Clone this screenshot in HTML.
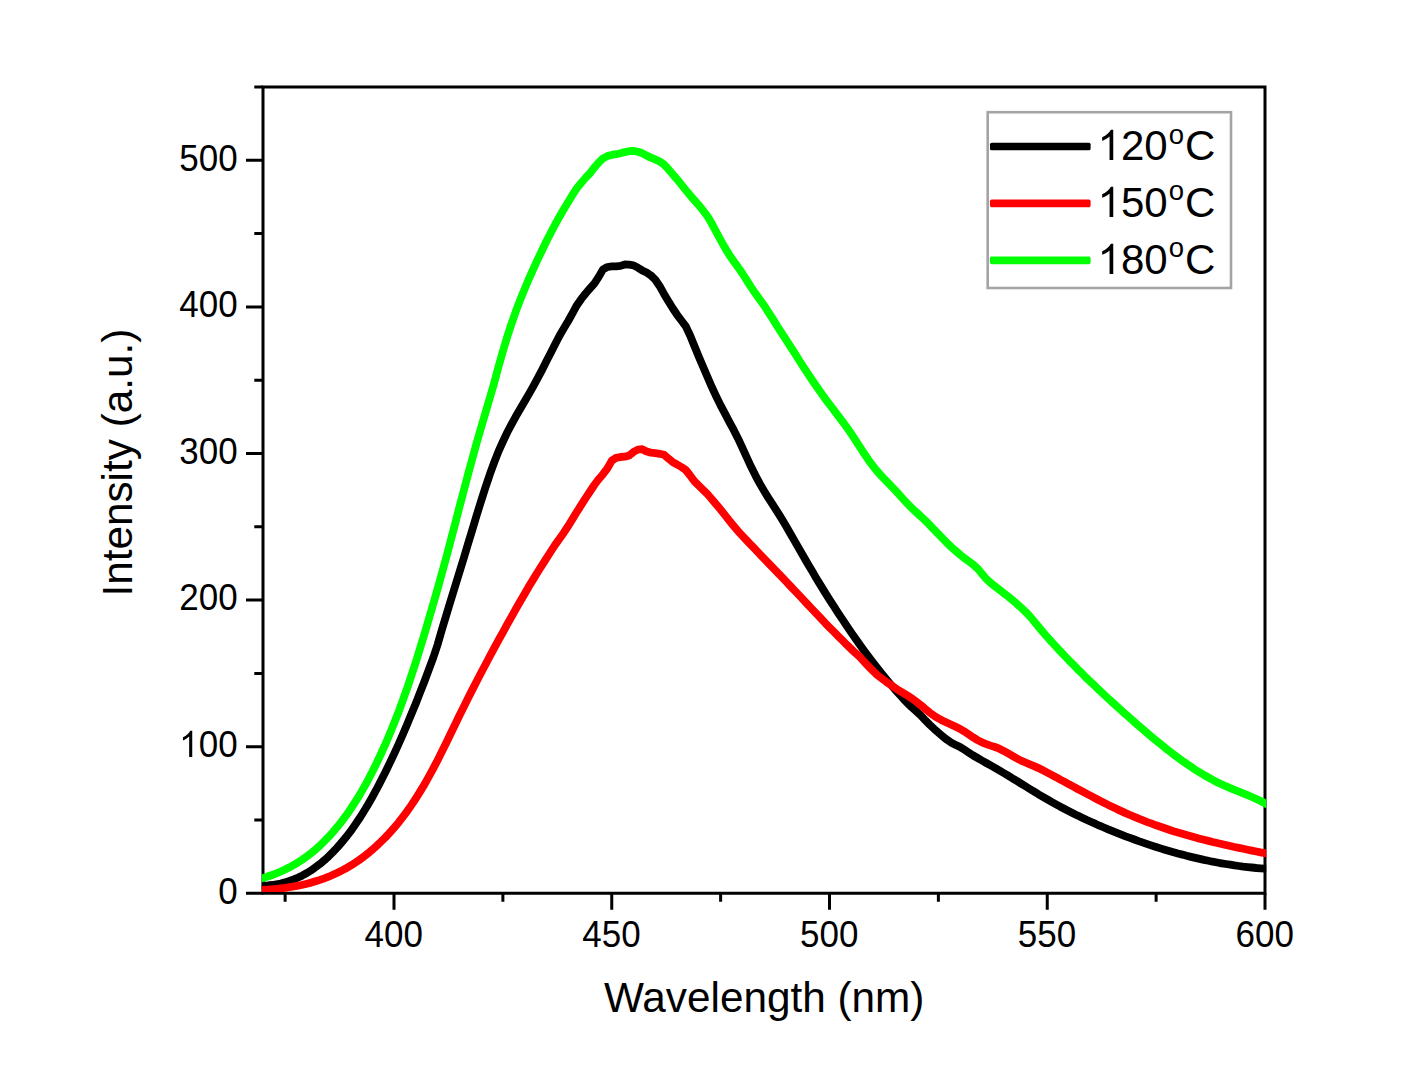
<!DOCTYPE html>
<html><head><meta charset="utf-8"><title>PL spectra</title>
<style>html,body{margin:0;padding:0;background:#fff;overflow:hidden}svg{display:block}text{font-family:"Liberation Sans",sans-serif;fill:#000}.tk{font-size:35px}.tt{font-size:42.3px}.lg{font-size:42px}</style></head><body>
<svg width="1428" height="1080" viewBox="0 0 1428 1080">
<rect width="1428" height="1080" fill="#fff"/>
<defs><clipPath id="c"><rect x="261.8" y="87.0" width="1004.4" height="805.0999999999999"/></clipPath></defs>
<g stroke="#000" stroke-width="3.0" fill="none" stroke-linecap="butt">
<path d="M263.0,85.5 V894.8 M1265.0,85.5 V894.8 M261.5,87.0 H1266.5 M261.5,893.3 H1266.5"/>
<path d="M246.0,893.30 H263.0 M254.3,820.00 H263.0 M246.0,746.70 H263.0 M254.3,673.40 H263.0 M246.0,600.10 H263.0 M254.3,526.80 H263.0 M246.0,453.50 H263.0 M254.3,380.20 H263.0 M246.0,306.90 H263.0 M254.3,233.60 H263.0 M246.0,160.30 H263.0 M254.3,87.00 H263.0 M285.12,893.3 V901.8 M394.00,893.3 V909.8 M502.88,893.3 V901.8 M611.75,893.3 V909.8 M720.62,893.3 V901.8 M829.50,893.3 V909.8 M938.38,893.3 V901.8 M1047.25,893.3 V909.8 M1156.12,893.3 V901.8 M1265.00,893.3 V909.8 "/>
</g>
<g clip-path="url(#c)" fill="none" stroke-linejoin="round" stroke-linecap="round" stroke-width="7.8">
<path stroke="#000" d="M257.4,885.8 L263.4,885.6 L267.7,885.4 L272.1,885.0 L276.4,884.3 L280.8,883.5 L285.1,882.4 L289.5,881.0 L293.8,879.4 L298.2,877.5 L302.5,875.4 L306.9,873.0 L311.3,870.3 L315.6,867.2 L320.0,863.9 L324.3,860.3 L328.7,856.3 L333.0,852.0 L337.4,847.4 L341.7,842.4 L346.1,837.1 L350.5,831.4 L354.8,825.3 L359.2,818.8 L363.5,812.0 L367.9,804.7 L372.2,797.2 L376.6,789.2 L380.9,780.9 L385.3,772.3 L389.6,763.4 L394.0,754.1 L398.4,744.5 L402.7,734.7 L407.1,724.5 L411.4,714.1 L415.8,703.4 L420.1,692.4 L424.5,681.2 L428.8,669.7 L433.2,657.9 L437.6,644.6 L441.9,629.7 L446.3,615.1 L450.6,600.8 L455.0,586.7 L459.3,572.6 L463.7,558.3 L468.0,543.9 L472.4,529.5 L476.7,515.1 L481.1,501.0 L485.5,487.3 L489.8,474.4 L494.2,462.4 L498.5,451.4 L502.9,441.6 L507.2,432.5 L511.6,424.2 L515.9,416.3 L520.3,408.8 L524.7,401.3 L529.0,393.9 L533.4,386.1 L537.7,378.1 L542.1,369.8 L546.4,361.3 L550.8,352.8 L555.1,344.2 L559.5,335.8 L563.8,328.4 L568.2,321.0 L572.6,313.2 L576.9,305.2 L581.3,298.9 L585.6,293.5 L590.0,288.4 L594.3,283.6 L598.7,276.9 L603.0,269.4 L607.4,267.0 L611.8,266.4 L616.1,266.4 L620.5,265.9 L624.8,264.5 L629.2,264.7 L633.5,265.3 L637.9,267.7 L642.2,270.4 L646.6,272.5 L650.9,275.4 L655.3,279.7 L659.7,286.2 L664.0,293.9 L668.4,301.3 L672.7,308.3 L677.1,314.8 L681.4,320.5 L685.8,326.4 L690.1,335.5 L694.5,346.3 L698.9,357.0 L703.2,367.0 L707.6,377.2 L711.9,387.2 L716.3,396.6 L720.6,405.4 L725.0,413.7 L729.3,421.8 L733.7,429.9 L738.0,438.4 L742.4,447.8 L746.8,457.5 L751.1,466.8 L755.5,475.6 L759.8,483.6 L764.2,491.1 L768.5,498.1 L772.9,504.9 L777.2,511.7 L781.6,518.7 L786.0,526.0 L790.3,533.5 L794.7,541.1 L799.0,548.7 L803.4,556.3 L807.7,563.8 L812.1,571.1 L816.4,578.4 L820.8,585.6 L825.1,592.6 L829.5,599.6 L833.9,606.4 L838.2,613.1 L842.6,619.7 L846.9,626.2 L851.3,632.6 L855.6,638.8 L860.0,645.0 L864.3,651.0 L868.7,656.9 L873.1,662.6 L877.4,668.2 L881.8,673.7 L886.1,679.0 L890.5,684.2 L894.8,689.3 L899.2,694.2 L903.5,699.0 L907.9,703.6 L912.2,707.7 L916.6,711.6 L921.0,715.7 L925.3,720.3 L929.7,724.7 L934.0,728.8 L938.4,732.7 L942.7,736.4 L947.1,739.8 L951.4,742.7 L955.8,744.9 L960.2,747.1 L964.5,749.8 L968.9,752.7 L973.2,755.5 L977.6,758.0 L981.9,760.5 L986.3,763.0 L990.6,765.4 L995.0,767.9 L999.3,770.4 L1003.7,773.0 L1008.1,775.6 L1012.4,778.3 L1016.8,780.9 L1021.1,783.6 L1025.5,786.3 L1029.8,789.0 L1034.2,791.6 L1038.5,794.3 L1042.9,796.8 L1047.3,799.4 L1051.6,801.9 L1056.0,804.3 L1060.3,806.7 L1064.7,809.0 L1069.0,811.2 L1073.4,813.4 L1077.7,815.6 L1082.1,817.7 L1086.4,819.8 L1090.8,821.8 L1095.2,823.7 L1099.5,825.7 L1103.9,827.5 L1108.2,829.4 L1112.6,831.2 L1116.9,832.9 L1121.3,834.6 L1125.6,836.3 L1130.0,837.9 L1134.4,839.5 L1138.7,841.1 L1143.1,842.6 L1147.4,844.1 L1151.8,845.6 L1156.1,847.0 L1160.5,848.4 L1164.8,849.7 L1169.2,851.0 L1173.5,852.2 L1177.9,853.5 L1182.3,854.6 L1186.6,855.8 L1191.0,856.9 L1195.3,857.9 L1199.7,858.9 L1204.0,859.9 L1208.4,860.8 L1212.7,861.7 L1217.1,862.5 L1221.5,863.3 L1225.8,864.0 L1230.2,864.7 L1234.5,865.4 L1238.9,866.0 L1243.2,866.6 L1247.6,867.1 L1251.9,867.5 L1256.3,868.0 L1260.6,868.3 L1265.0,868.7 L1271.0,869.1"/>
<path stroke="#f00" d="M257.4,890.5 L263.4,890.0 L267.7,889.7 L272.1,889.3 L276.4,888.9 L280.8,888.4 L285.1,887.9 L289.5,887.2 L293.8,886.5 L298.2,885.7 L302.5,884.8 L306.9,883.7 L311.3,882.6 L315.6,881.3 L320.0,879.9 L324.3,878.4 L328.7,876.7 L333.0,874.8 L337.4,872.8 L341.7,870.6 L346.1,868.3 L350.5,865.7 L354.8,862.9 L359.2,860.0 L363.5,856.8 L367.9,853.4 L372.2,849.8 L376.6,845.9 L380.9,841.8 L385.3,837.5 L389.6,832.8 L394.0,827.9 L398.4,822.7 L402.7,817.1 L407.1,811.3 L411.4,805.1 L415.8,798.5 L420.1,791.6 L424.5,784.4 L428.8,776.7 L433.2,768.6 L437.6,760.2 L441.9,751.6 L446.3,742.7 L450.6,733.7 L455.0,724.7 L459.3,715.8 L463.7,706.9 L468.0,698.2 L472.4,689.6 L476.7,681.2 L481.1,672.8 L485.5,664.5 L489.8,656.3 L494.2,648.2 L498.5,640.2 L502.9,632.3 L507.2,624.4 L511.6,616.6 L515.9,608.8 L520.3,601.2 L524.7,593.7 L529.0,586.3 L533.4,579.1 L537.7,572.0 L542.1,565.1 L546.4,558.3 L550.8,551.5 L555.1,544.9 L559.5,538.8 L563.8,532.7 L568.2,526.0 L572.6,518.9 L576.9,511.8 L581.3,504.9 L585.6,498.1 L590.0,491.5 L594.3,485.0 L598.7,479.2 L603.0,474.2 L607.4,468.4 L611.8,460.6 L616.1,457.9 L620.5,457.0 L624.8,456.7 L629.2,455.4 L633.5,451.9 L637.9,449.6 L642.2,449.2 L646.6,451.5 L650.9,452.6 L655.3,453.2 L659.7,453.8 L664.0,454.8 L668.4,458.6 L672.7,462.1 L677.1,464.5 L681.4,467.0 L685.8,470.0 L690.1,475.5 L694.5,481.4 L698.9,485.7 L703.2,490.0 L707.6,494.3 L711.9,499.2 L716.3,504.5 L720.6,509.6 L725.0,515.1 L729.3,520.6 L733.7,526.0 L738.0,531.1 L742.4,535.8 L746.8,540.5 L751.1,545.1 L755.5,549.6 L759.8,554.2 L764.2,558.7 L768.5,563.2 L772.9,567.8 L777.2,572.3 L781.6,576.8 L786.0,581.4 L790.3,586.0 L794.7,590.6 L799.0,595.2 L803.4,599.9 L807.7,604.5 L812.1,609.1 L816.4,613.7 L820.8,618.3 L825.1,622.9 L829.5,627.4 L833.9,631.8 L838.2,636.2 L842.6,640.6 L846.9,644.9 L851.3,649.1 L855.6,653.2 L860.0,657.2 L864.3,661.8 L868.7,666.5 L873.1,671.0 L877.4,675.2 L881.8,678.5 L886.1,681.7 L890.5,684.8 L894.8,687.8 L899.2,690.7 L903.5,693.2 L907.9,695.8 L912.2,698.7 L916.6,701.9 L921.0,705.3 L925.3,709.0 L929.7,712.6 L934.0,715.7 L938.4,718.4 L942.7,720.7 L947.1,722.7 L951.4,724.7 L955.8,726.8 L960.2,729.0 L964.5,731.6 L968.9,734.5 L973.2,737.4 L977.6,740.1 L981.9,742.3 L986.3,744.1 L990.6,745.6 L995.0,747.0 L999.3,748.7 L1003.7,750.9 L1008.1,753.4 L1012.4,755.9 L1016.8,758.4 L1021.1,760.6 L1025.5,762.5 L1029.8,764.3 L1034.2,766.1 L1038.5,768.1 L1042.9,770.3 L1047.3,772.6 L1051.6,774.9 L1056.0,777.2 L1060.3,779.6 L1064.7,781.9 L1069.0,784.3 L1073.4,786.6 L1077.7,789.0 L1082.1,791.3 L1086.4,793.6 L1090.8,795.9 L1095.2,798.2 L1099.5,800.5 L1103.9,802.7 L1108.2,804.9 L1112.6,807.0 L1116.9,809.1 L1121.3,811.1 L1125.6,813.1 L1130.0,815.0 L1134.4,816.9 L1138.7,818.7 L1143.1,820.4 L1147.4,822.1 L1151.8,823.7 L1156.1,825.3 L1160.5,826.8 L1164.8,828.3 L1169.2,829.8 L1173.5,831.2 L1177.9,832.5 L1182.3,833.8 L1186.6,835.1 L1191.0,836.3 L1195.3,837.5 L1199.7,838.7 L1204.0,839.8 L1208.4,840.9 L1212.7,842.0 L1217.1,843.0 L1221.5,844.0 L1225.8,845.0 L1230.2,846.0 L1234.5,847.0 L1238.9,847.9 L1243.2,848.8 L1247.6,849.7 L1251.9,850.6 L1256.3,851.5 L1260.6,852.4 L1265.0,853.2 L1271.0,854.4"/>
<path stroke="#0f0" d="M257.4,879.8 L263.4,877.9 L267.7,876.5 L272.1,875.0 L276.4,873.4 L280.8,871.5 L285.1,869.5 L289.5,867.3 L293.8,864.9 L298.2,862.3 L302.5,859.5 L306.9,856.4 L311.3,853.0 L315.6,849.4 L320.0,845.5 L324.3,841.3 L328.7,836.8 L333.0,832.0 L337.4,826.8 L341.7,821.3 L346.1,815.4 L350.5,809.2 L354.8,802.6 L359.2,795.6 L363.5,788.1 L367.9,780.3 L372.2,772.0 L376.6,763.2 L380.9,754.0 L385.3,744.4 L389.6,734.2 L394.0,723.5 L398.4,712.3 L402.7,700.6 L407.1,688.4 L411.4,675.6 L415.8,662.2 L420.1,648.2 L424.5,633.8 L428.8,619.1 L433.2,604.1 L437.6,588.8 L441.9,573.2 L446.3,557.2 L450.6,540.9 L455.0,524.3 L459.3,507.5 L463.7,490.9 L468.0,474.5 L472.4,458.5 L476.7,442.8 L481.1,427.5 L485.5,412.7 L489.8,398.0 L494.2,382.8 L498.5,366.7 L502.9,351.2 L507.2,336.8 L511.6,323.5 L515.9,311.2 L520.3,299.7 L524.7,288.9 L529.0,278.6 L533.4,268.9 L537.7,259.4 L542.1,250.2 L546.4,241.3 L550.8,232.8 L555.1,224.5 L559.5,216.6 L563.8,209.2 L568.2,202.0 L572.6,194.7 L576.9,188.1 L581.3,182.7 L585.6,177.8 L590.0,173.2 L594.3,167.6 L598.7,162.5 L603.0,158.4 L607.4,156.1 L611.8,154.9 L616.1,154.2 L620.5,153.3 L624.8,152.1 L629.2,151.2 L633.5,150.8 L637.9,151.7 L642.2,153.2 L646.6,155.6 L650.9,157.6 L655.3,159.4 L659.7,161.6 L664.0,164.5 L668.4,169.2 L672.7,174.3 L677.1,179.3 L681.4,184.6 L685.8,190.1 L690.1,195.3 L694.5,200.3 L698.9,205.3 L703.2,210.6 L707.6,216.5 L711.9,223.8 L716.3,232.0 L720.6,240.0 L725.0,247.9 L729.3,254.9 L733.7,261.2 L738.0,267.1 L742.4,273.5 L746.8,280.3 L751.1,287.1 L755.5,293.6 L759.8,299.5 L764.2,305.6 L768.5,312.3 L772.9,319.2 L777.2,326.1 L781.6,332.8 L786.0,339.6 L790.3,346.4 L794.7,353.2 L799.0,360.0 L803.4,366.8 L807.7,373.4 L812.1,380.0 L816.4,386.3 L820.8,392.5 L825.1,398.6 L829.5,404.4 L833.9,410.1 L838.2,415.8 L842.6,421.6 L846.9,427.5 L851.3,433.8 L855.6,440.4 L860.0,447.1 L864.3,453.8 L868.7,460.3 L873.1,466.2 L877.4,471.5 L881.8,476.3 L886.1,480.8 L890.5,485.3 L894.8,489.9 L899.2,494.7 L903.5,499.5 L907.9,504.2 L912.2,508.6 L916.6,512.5 L921.0,516.5 L925.3,520.6 L929.7,525.0 L934.0,529.6 L938.4,534.1 L942.7,538.5 L947.1,542.9 L951.4,547.1 L955.8,551.0 L960.2,554.8 L964.5,558.3 L968.9,561.4 L973.2,564.6 L977.6,568.6 L981.9,573.7 L986.3,578.9 L990.6,582.9 L995.0,586.4 L999.3,589.7 L1003.7,593.1 L1008.1,596.5 L1012.4,600.1 L1016.8,603.8 L1021.1,607.7 L1025.5,611.8 L1029.8,616.3 L1034.2,621.5 L1038.5,626.8 L1042.9,632.0 L1047.3,637.0 L1051.6,641.9 L1056.0,646.6 L1060.3,651.3 L1064.7,655.9 L1069.0,660.4 L1073.4,664.8 L1077.7,669.2 L1082.1,673.6 L1086.4,677.9 L1090.8,682.1 L1095.2,686.2 L1099.5,690.4 L1103.9,694.5 L1108.2,698.5 L1112.6,702.5 L1116.9,706.4 L1121.3,710.4 L1125.6,714.3 L1130.0,718.1 L1134.4,722.0 L1138.7,725.8 L1143.1,729.5 L1147.4,733.2 L1151.8,736.9 L1156.1,740.5 L1160.5,744.1 L1164.8,747.6 L1169.2,751.0 L1173.5,754.3 L1177.9,757.6 L1182.3,760.8 L1186.6,763.8 L1191.0,766.8 L1195.3,769.7 L1199.7,772.4 L1204.0,775.0 L1208.4,777.5 L1212.7,779.9 L1217.1,782.2 L1221.5,784.2 L1225.8,786.2 L1230.2,788.1 L1234.5,789.9 L1238.9,791.6 L1243.2,793.4 L1247.6,795.2 L1251.9,797.0 L1256.3,799.0 L1260.6,801.0 L1265.0,803.3 L1271.0,806.4"/>
</g>
<text class="tk" transform="translate(237.60,903.50) scale(1,1.035)" text-anchor="end">0</text>
<path transform="translate(179.20,756.90) scale(0.01709,-0.01769)" d="M763 0H583V1147Q518 1085 412 1023Q307 961 223 930V1104Q374 1175 487 1276Q600 1377 647 1472H763Z" fill="#000"/>
<text class="tk" transform="translate(237.60,756.90) scale(1,1.035)" text-anchor="end">00</text>
<text class="tk" transform="translate(237.60,610.30) scale(1,1.035)" text-anchor="end">200</text>
<text class="tk" transform="translate(237.60,463.70) scale(1,1.035)" text-anchor="end">300</text>
<text class="tk" transform="translate(237.60,317.10) scale(1,1.035)" text-anchor="end">400</text>
<text class="tk" transform="translate(237.60,170.50) scale(1,1.035)" text-anchor="end">500</text>
<text class="tk" transform="translate(393.80,947.30) scale(1,1.035)" text-anchor="middle">400</text>
<text class="tk" transform="translate(611.55,947.30) scale(1,1.035)" text-anchor="middle">450</text>
<text class="tk" transform="translate(829.30,947.30) scale(1,1.035)" text-anchor="middle">500</text>
<text class="tk" transform="translate(1047.05,947.30) scale(1,1.035)" text-anchor="middle">550</text>
<text class="tk" transform="translate(1264.80,947.30) scale(1,1.035)" text-anchor="middle">600</text>
<text class="tt" x="764.2" y="1011.7" text-anchor="middle">Wavelength (nm)</text>
<text class="tt" transform="translate(132.2,462.6) rotate(-90)" text-anchor="middle">Intensity (a.u.)</text>
<rect x="987.7" y="112.2" width="243.3" height="175.8" fill="#fff" stroke="#a4a4a4" stroke-width="2.6"/>
<rect x="990" y="142.70" width="100.6" height="7.6" rx="1.6" fill="#000"/>
<path transform="translate(1097.60,160.00) scale(0.02051,-0.02051)" d="M763 0H583V1147Q518 1085 412 1023Q307 961 223 930V1104Q374 1175 487 1276Q600 1377 647 1472H763Z" fill="#000"/>
<text class="lg" x="1120.96" y="160.00">20<tspan font-size="27.5px" dx="1" dy="-16.5">o</tspan><tspan dx="1" dy="16.5">C</tspan></text>
<rect x="990" y="199.60" width="100.6" height="7.6" rx="1.6" fill="#f00"/>
<path transform="translate(1097.60,216.90) scale(0.02051,-0.02051)" d="M763 0H583V1147Q518 1085 412 1023Q307 961 223 930V1104Q374 1175 487 1276Q600 1377 647 1472H763Z" fill="#000"/>
<text class="lg" x="1120.96" y="216.90">50<tspan font-size="27.5px" dx="1" dy="-16.5">o</tspan><tspan dx="1" dy="16.5">C</tspan></text>
<rect x="990" y="256.60" width="100.6" height="7.6" rx="1.6" fill="#0f0"/>
<path transform="translate(1097.60,273.90) scale(0.02051,-0.02051)" d="M763 0H583V1147Q518 1085 412 1023Q307 961 223 930V1104Q374 1175 487 1276Q600 1377 647 1472H763Z" fill="#000"/>
<text class="lg" x="1120.96" y="273.90">80<tspan font-size="27.5px" dx="1" dy="-16.5">o</tspan><tspan dx="1" dy="16.5">C</tspan></text>
</svg></body></html>
